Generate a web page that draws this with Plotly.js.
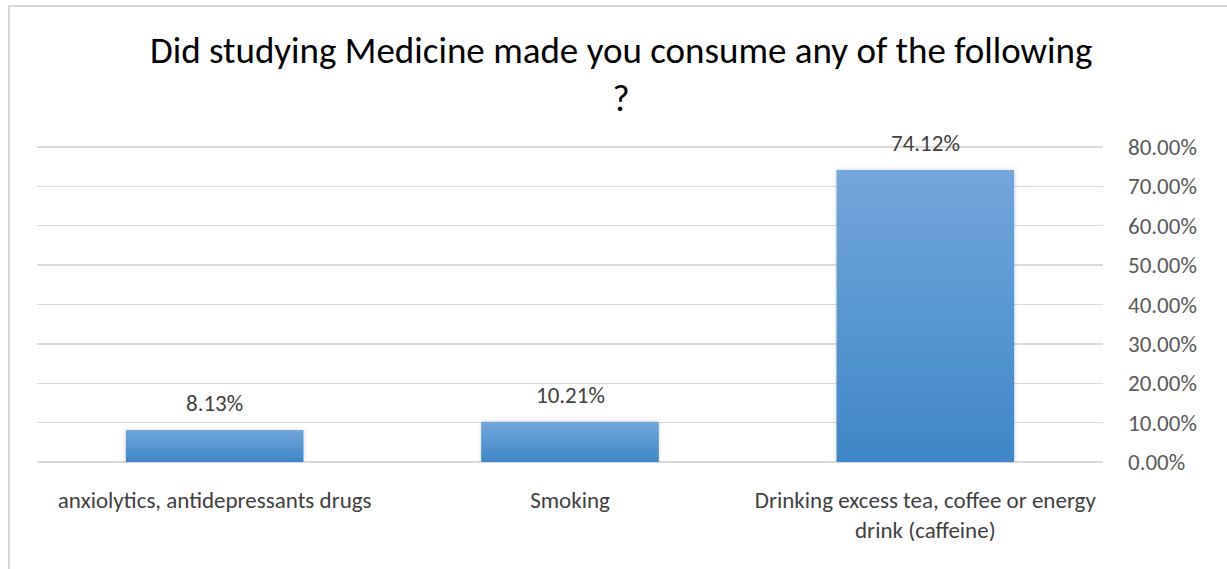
<!DOCTYPE html>
<html>
<head>
<meta charset="utf-8">
<script src="https://cdn.plot.ly/plotly-3.0.1.min.js"></script>
<style>
  html, body { margin: 0; padding: 0; background: #fff; overflow: hidden; }
  #chart { position: absolute; left: 0; top: 0; width: 1227px; height: 569px; }
  #frame { position: absolute; left: 8px; top: 5px; width: 1240px; height: 600px;
           border-top: 2px solid #d9d9d9; border-left: 2px solid #d9d9d9; pointer-events: none; }
</style>
</head>
<body>
<div id="chart"></div>
<div id="frame"></div>
<script>
const titleText = "Did studying Medicine made you consume any of the following<br>?";
const categories = [
  "anxiolytics, antidepressants drugs",
  "Smoking",
  "Drinking excess tea, coffee or energy<br>drink (caffeine)"
];
const values = [0.0813, 0.1021, 0.7412];
const yTickVals = [0, 0.1, 0.2, 0.3, 0.4, 0.5, 0.6, 0.7, 0.8];

const FONT = 'Carlito, "Open Sans", sans-serif';

const trace = {
  type: 'bar',
  x: categories,
  y: values,
  marker: { color: '#5b9bd5', line: { width: 0 } },
  hoverinfo: 'x+y'
};

const annotations = categories.map((c, i) => ({
  x: c, y: values[i], xref: 'x', yref: 'y',
  text: (values[i] * 100).toFixed(2) + '%',
  showarrow: false, yanchor: 'bottom', yshift: 11,
  font: { family: FONT, size: 23, color: '#404040' }
}));

const layout = {
  width: 1227, height: 569,
  margin: { l: 37, r: 124, t: 143, b: 107 },
  paper_bgcolor: 'rgba(0,0,0,0)',
  plot_bgcolor: 'rgba(0,0,0,0)',
  showlegend: false,
  bargap: 0.5,
  title: {
    text: titleText,
    x: 0.548, xref: 'paper', xanchor: 'center',
    y: 0.889, yref: 'container', yanchor: 'top',
    font: { family: FONT, size: 37, color: '#000000' }
  },
  xaxis: {
    type: 'category',
    showgrid: false, showline: false, zeroline: false,
    ticks: '', ticklabelstandoff: 22,
    tickfont: { family: FONT, size: 23, color: '#404040' }
  },
  yaxis: {
    side: 'right',
    range: [0, 0.81],
    tickvals: yTickVals,
    tickformat: '.2%',
    showgrid: true, gridcolor: '#d9d9d9', gridwidth: 1.3,
    zeroline: true, zerolinecolor: '#d9d9d9', zerolinewidth: 1.3,
    showline: false, ticks: '', ticklabelstandoff: 24,
    tickfont: { family: FONT, size: 23, color: '#595959' }
  },
  annotations: annotations
};

function applyGradient(gd) {
  const svg = gd.querySelector('svg.main-svg');
  if (!svg) return;
  let defs = svg.querySelector('defs');
  if (!defs) { defs = document.createElementNS('http://www.w3.org/2000/svg', 'defs'); svg.insertBefore(defs, svg.firstChild); }
  if (!svg.querySelector('#barGrad')) {
    defs.insertAdjacentHTML('beforeend',
      '<linearGradient id="barGrad" x1="0" y1="0" x2="0" y2="1">' +
      '<stop offset="0" stop-color="#72a7da"/>' +
      '<stop offset="1" stop-color="#3f86c6"/>' +
      '</linearGradient>' +
      '<filter id="barShadow" x="-10%" y="-10%" width="120%" height="120%">' +
      '<feDropShadow dx="0" dy="0" stdDeviation="2" flood-color="#000" flood-opacity="0.18"/>' +
      '</filter>');
  }
  gd.querySelectorAll('.bars .point path').forEach(p => {
    p.style.fill = 'url(#barGrad)';
    p.setAttribute('filter', 'url(#barShadow)');
  });
}

Plotly.newPlot('chart', [trace], layout, { displayModeBar: false, staticPlot: true }).then(gd => {
  applyGradient(gd);
  gd.on('plotly_afterplot', () => applyGradient(gd));
});
</script>
</body>
</html>
